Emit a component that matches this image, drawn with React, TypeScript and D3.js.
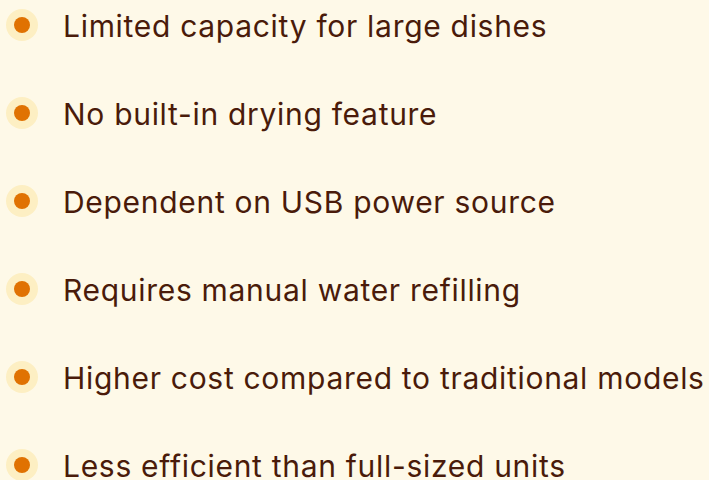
import React from "react";
import * as d3 from "d3";

const items: string[] = [
  "Limited capacity for large dishes",
  "No built-in drying feature",
  "Dependent on USB power source",
  "Requires manual water refilling",
  "Higher cost compared to traditional models",
  "Less efficient than full-sized units",
];

const W = 709;
const H = 480;

export default function App() {
  const y = d3
    .scalePoint<string>()
    .domain(items)
    .range([25, 465]);
  return (
    <svg
      width={W}
      height={H}
      style={{ position: "fixed", left: 0, top: 0, display: "block" }}
    >
      <rect x={0} y={0} width={W} height={H} fill="#FEF9E8" />
      {items.map((t) => {
        const cy = y(t) as number;
        return (
          <g key={t}>
            <circle cx={22} cy={cy} r={16} fill="#FDEFC3" />
            <circle cx={22} cy={cy} r={8} fill="#E07202" />
            <text
              x={63}
              y={cy + 12}
              fontFamily="Inter"
              fontSize={30}
              letterSpacing={0.7}
              fill="#4A1B0A"
            >
              {t}
            </text>
          </g>
        );
      })}
    </svg>
  );
}
